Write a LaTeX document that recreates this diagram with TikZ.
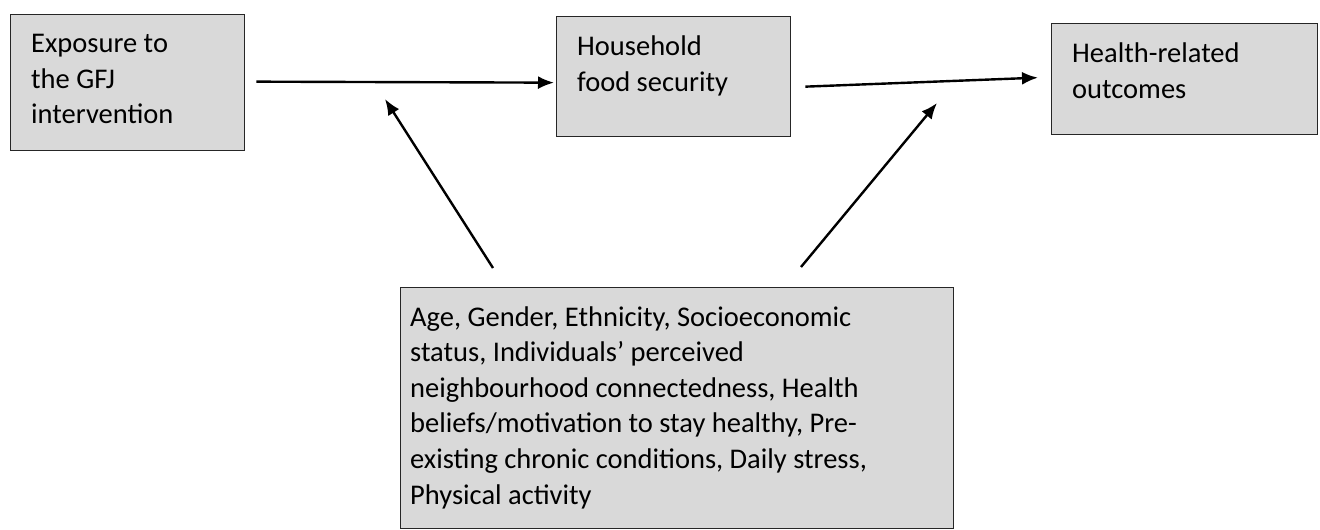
\documentclass[tikz,border=0pt]{standalone}
\usepackage{fontspec}
\setmainfont{Carlito}
\usetikzlibrary{arrows.meta,calc}
\begin{document}
\begin{tikzpicture}[x=1pt,y=-1pt,
  box/.style={draw=black!85, line width=1.3pt, fill=black!15, inner sep=0pt, anchor=north west},
  txt/.style={anchor=base west, inner sep=0pt, font=\fontsize{28.5}{35.7}\selectfont},
  arr/.style={line width=2.4pt, -{Latex[length=16pt,width=13pt]}}]
\useasboundingbox (0,0) rectangle (1320,530);

% boxes
\node[box, minimum width=234pt, minimum height=136pt] (b1) at (10,14) {};
\node[box, minimum width=234pt, minimum height=120pt] (b2) at (556,16) {};
\node[box, minimum width=266pt, minimum height=111pt] (b3) at (1051,23) {};
\node[box, minimum width=553pt, minimum height=241pt] (b4) at (400,287) {};

% box texts, one node per line
\node[txt] (t1a) at ($(b1.north west)+(21,38.5)$) {Exposure to};
\node[txt] (t1b) at ($(t1a.base west)+(0,35.5)$) {the GFJ};
\node[txt] (t1c) at ($(t1b.base west)+(0,35.5)$) {intervention};

\node[txt] (t2a) at ($(b2.north west)+(21,39)$) {Household};
\node[txt] (t2b) at ($(t2a.base west)+(0,36)$) {food security};

\node[txt] (t3a) at ($(b3.north west)+(21,39)$) {Health-related};
\node[txt] (t3b) at ($(t3a.base west)+(0,36)$) {outcomes};

\node[txt] (t4a) at ($(b4.north west)+(10,39)$) {Age, Gender, Ethnicity, Socioeconomic};
\node[txt] (t4b) at ($(t4a.base west)+(0,35.6)$) {status, Individuals’ perceived};
\node[txt] (t4c) at ($(t4b.base west)+(0,35.6)$) {neighbourhood connectedness, Health};
\node[txt] (t4d) at ($(t4c.base west)+(0,35.6)$) {beliefs/motivation to stay healthy, Pre-};
\node[txt] (t4e) at ($(t4d.base west)+(0,35.6)$) {existing chronic conditions, Daily stress,};
\node[txt] (t4f) at ($(t4e.base west)+(0,35.6)$) {Physical activity};

% arrow end points
\coordinate (a1s) at ($(b1.east)+(11,-1)$);
\coordinate (a1e) at ($(b2.west)+(-2,6)$);
\coordinate (a2s) at ($(b2.east)+(14,10)$);
\coordinate (a2e) at ($(b3.west)+(-13,-1.5)$);
\coordinate (m1s) at ($(b4.north west)+(93,-19)$);
\coordinate (m1e) at (385,99);
\coordinate (m2s) at ($(b4.north west)+(401,-20)$);
\coordinate (m2e) at (937,103);

% arrows
\draw[arr] (a1s) -- (a1e);
\draw[arr] (a2s) -- (a2e);
\draw[arr] (m1s) -- (m1e);
\draw[arr] (m2s) -- (m2e);
\end{tikzpicture}
\end{document}
